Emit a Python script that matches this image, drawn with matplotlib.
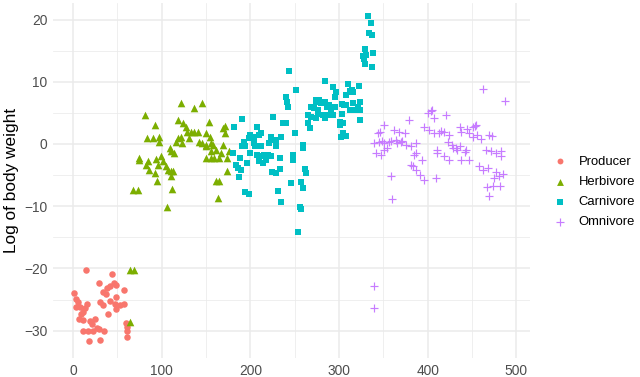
import matplotlib
matplotlib.use("Agg")
import matplotlib.pyplot as plt
from matplotlib.ticker import MultipleLocator

plt.rcParams['font.family'] = ['Liberation Sans', 'DejaVu Sans']

# ---------------- data ----------------
producer_x = [15, 44, 29, 46, 49, 42, 38, 57, 34, 1, 37, 49, 3, 30, 42, 16, 6, 47, 58, 53,
              8, 3, 34, 13, 49, 40, 11, 9, 7, 11, 25, 19, 60, 21, 61, 27, 11, 17, 23, 29,
              35, 61, 18, 31, 61]
producer_y = [-20.2, -20.9, -22.3, -22.3, -22.7, -22.9, -23.1, -23.4, -23.8, -23.9, -24.1,
              -24.6, -24.9, -25.4, -25.2, -25.7, -25.4, -25.7, -25.7, -25.9, -26.2, -26.2,
              -25.9, -26.3, -26.6, -27.3, -27.0, -27.3, -28.1, -28.3, -28.1, -28.5, -28.8,
              -28.9, -29.5, -29.6, -30.0, -30.0, -30.0, -29.7, -30.0, -30.0, -31.7, -31.5, -31.0]

herbivore_x = [64, 69, 64, 122, 137, 146, 81, 93, 118, 124, 153, 127, 129, 133, 137, 141, 150,
               169, 172, 171, 83, 90, 97, 97, 118, 122, 116, 123, 131, 142, 146, 150, 156, 158,
               154, 169, 109, 111, 114, 167, 176, 74, 75, 85, 94, 99, 102, 82, 86, 92, 96, 105,
               107, 111, 113, 110, 150, 156, 159, 165, 174, 174, 161, 165, 95, 112, 68, 73, 164,
               106, 150, 156, 161]
herbivore_y = [-20.3, -20.3, -28.6, 6.6, 5.8, 6.6, 4.7, 3.1, 3.9, 3.4, 3.5, 2.7, 2.0, 2.0, 2.0,
               2.0, 1.8, 2.5, 2.9, 1.8, 1.0, 1.0, 1.2, 0.4, 1.0, 1.2, 0.4, 0.2, 0.9, 0.4, 0.1,
               -0.2, 0.1, -0.2, 1.2, -0.2, -0.6, -1.1, -1.5, -1.4, -1.2, -2.2, -2.6, -2.7, -2.4,
               -1.9, -2.7, -3.4, -4.1, -4.6, -3.4, -3.6, -4.1, -4.3, -4.3, -5.2, -2.3, -2.3, -2.3,
               -2.3, -2.3, -4.3, -5.9, -5.9, -5.9, -7.2, -7.4, -7.4, -8.7, -10.1, -0.4, -1.2, -1.0]

carnivore_x = [243.5, 284.6, 252, 293, 310, 315, 240.5, 241, 242, 297, 295, 308, 312, 274, 278,
               280, 284, 269, 272, 276, 286, 289, 291, 295, 265, 269, 274, 284, 289, 293, 303,
               308, 316, 318, 321, 265, 267, 301, 305, 305, 308, 302, 226, 237, 240, 191, 182,
               207, 250, 200, 204, 199, 210, 212, 223, 225, 229, 235, 193, 194, 191, 204, 205,
               212, 221, 229, 180, 259, 260, 200, 208, 212, 216, 220, 223, 210, 214, 218, 233,
               248, 248, 188, 196, 184, 186, 190, 187, 233, 229, 224, 262, 263, 246, 257, 260,
               194, 198, 231, 235, 256, 257, 254,
               333, 335.6, 334, 337.5, 329, 338.6, 327, 328, 331, 329, 337,
               323, 313, 316, 324, 322, 324, 304, 306, 312, 324, 301, 270, 274, 282, 276]
carnivore_y = [11.7, 10.2, 8.7, 9.1, 9.6, 8.7, 7.6, 6.8, 5.9, 8.4, 7.6, 7.9, 8.4, 7.1, 7.1, 6.6,
               6.8, 6.0, 5.8, 5.5, 6.0, 6.3, 5.5, 6.0, 4.7, 4.4, 4.1, 4.1, 4.7, 4.7, 4.9, 6.3,
               6.6, 5.5, 6.0, 3.3, 2.5, 3.6, 3.3, 1.7, 1.3, 1.2, 4.4, 3.3, 3.3, 4.0, 2.8, 2.8,
               1.7, 1.5, 1.2, 0.9, 1.5, 1.7, 1.2, 0.6, 0.6, 1.2, 0.4, -0.4, -0.4, 0.1, -0.4,
               -0.4, 0.1, -0.4, -1.5, -0.2, -0.7, -1.5, -1.8, -2.0, -1.8, -1.8, -2.0, -2.8,
               -3.1, -2.5, -2.3, -1.8, -2.5, -2.3, -3.0, -3.4, -3.9, -4.2, -5.3, -4.0, -4.6,
               -4.5, -4.0, -4.6, -6.3, -6.1, -7.0, -7.7, -8.0, -7.6, -9.3, -10.1, -10.5, -14.2,
               20.5, 19.4, 17.8, 17.5, 15.3, 14.7, 14.1, 13.6, 14.3, 12.9, 12.4,
               9.3, 8.6, 8.4, 6.8, 6.0, 5.5, 6.5, 6.3, 5.5, 3.9, 3.0, 6.0, 6.8, 4.7, 4.9]

omnivore_x = [351, 379, 400, 404, 407, 421, 344, 346, 362, 368, 374, 396, 402, 407, 413, 419,
              424, 436, 438, 451, 455, 447, 451, 456, 469, 340, 345, 351, 357, 364, 370, 376,
              381, 387, 423, 428, 432, 436, 443, 466, 471, 477, 342, 347, 351, 387, 385, 411,
              411, 419, 424, 438, 447, 394, 381, 383, 387, 391, 396, 409, 359, 458, 462, 468,
              477, 475, 467, 462, 487, 483, 483, 485, 482, 474, 469, 360, 340, 340, 480, 405,
              429, 454, 445, 359, 365, 348, 354, 371, 415, 433, 442, 460, 473]
omnivore_y = [3.1, 3.9, 5.0, 5.3, 4.2, 4.6, 1.8, 1.9, 2.3, 2.0, 1.8, 2.8, 2.3, 1.8, 1.8, 2.0,
              1.5, 2.8, 2.0, 2.8, 3.1, 1.8, 1.2, 1.5, 1.5, 0.1, 0.4, 0.1, 0.4, 0.7, 0.4, -0.1,
              -0.4, 0.1, 0.4, -0.1, -0.7, -0.4, -0.9, -0.9, -1.2, -1.5, -1.5, -1.8, -1.0, -1.5,
              -1.8, -0.9, -1.5, -2.0, -2.6, -2.6, -2.6, -2.6, -3.4, -3.6, -4.2, -5.0, -5.8, -5.5,
              -5.2, -3.6, -4.2, -3.9, -4.5, -5.5, -6.9, 8.8, 6.9, -1.1, -1.9, -4.8, -6.7, -6.8,
              -8.3, -8.9, -22.8, -26.3, -5.2, 5.4, -0.6, 2.9, 2.4, 0.5, 0.2, 0.5, -0.6, 0.5,
              2.1, -0.9, -1.3, 0.8, 1.3]

groups = ["Producer", "Herbivore", "Carnivore", "Omnivore"]
colors = ["#F8766D", "#7CAE00", "#00BFC4", "#C77CFF"]
ylabel_text = "Log of body weight"

# ---------------- figure ----------------
fig = plt.figure(figsize=(6.4, 3.77), dpi=100)
W, H = 640, 377
left, right, top, bottom = 53, 530, 3, 358
ax = fig.add_axes([left / W, (H - bottom) / H, (right - left) / W, (bottom - top) / H])

x0_px, sx = 73.0, 0.8865
y0_px, sy = 144.0, 6.22
ax.set_xlim((left - x0_px) / sx, (right - x0_px) / sx)
ax.set_ylim((y0_px - bottom) / sy, (y0_px - top) / sy)

data = [(producer_x, producer_y), (herbivore_x, herbivore_y),
        (carnivore_x, carnivore_y), (omnivore_x, omnivore_y)]
markers = ['o', '^', 's', '+']
sizes = [22, 30, 20, 38]
handles = []
for (xs, ys), name, col, m, s in zip(data, groups, colors, markers, sizes):
    if m == '+':
        h = ax.scatter(xs, ys, marker=m, s=s, color=col, linewidths=0.85, label=name, zorder=3)
    else:
        h = ax.scatter(xs, ys, marker=m, s=s, color=col, linewidths=0, label=name, zorder=3)
    handles.append(h)

ax.set_facecolor("white")
for sp in ax.spines.values():
    sp.set_visible(False)
ax.xaxis.set_major_locator(MultipleLocator(100))
ax.xaxis.set_minor_locator(MultipleLocator(50))
ax.yaxis.set_major_locator(MultipleLocator(10))
ax.yaxis.set_minor_locator(MultipleLocator(5))
ax.grid(which='major', color='#EBEBEB', linewidth=1.1, zorder=0)
ax.grid(which='minor', color='#EBEBEB', linewidth=0.55, zorder=0)
ax.set_axisbelow(True)
ax.tick_params(which='both', length=0, labelsize=9.9, labelcolor='#4D4D4D', pad=4)
ax.set_xticks([0, 100, 200, 300, 400, 500])
ax.set_xticklabels(["0", "100", "200", "300", "400", "500"])
ax.set_yticks([-30, -20, -10, 0, 10, 20])
ax.set_yticklabels(["\u221230", "\u221220", "\u221210", "0", "10", "20"])
ax.set_ylabel(ylabel_text, fontsize=12.4, color='black', labelpad=4)

leg = fig.legend(handles=handles, labels=groups, loc='center left',
                 bbox_to_anchor=(553 / W, (H - 192) / H), frameon=False,
                 fontsize=9.4, handlelength=1.0, handletextpad=0.95,
                 labelspacing=0.62, borderpad=0, borderaxespad=0, markerscale=0.9)

fig.savefig("out.png", dpi=100, facecolor="white")
